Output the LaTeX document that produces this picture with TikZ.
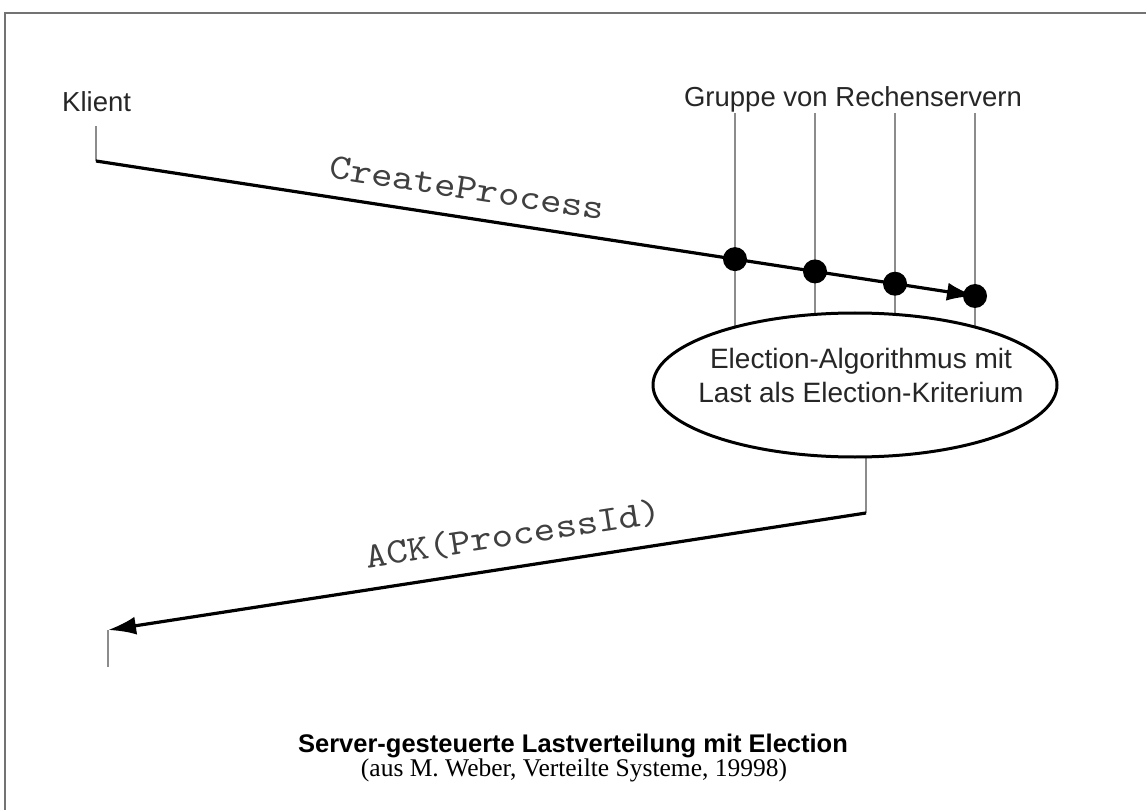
\documentclass[tikz,border=0pt]{standalone}
\usepackage{fontspec}
\setmainfont{Liberation Serif}
\setsansfont{Liberation Sans}
\newfontfamily\msgfont{lmmono10-regular}[Extension=.otf, FakeStretch=1.13]
\usetikzlibrary{shapes.geometric,arrows.meta}
\pgfdeclarelayer{bg}
\pgfsetlayers{bg,main}

\begin{document}
\begin{tikzpicture}[x=1pt,y=-1pt,
  lbl/.style={font=\sffamily\fontsize{27.5}{33}\selectfont, text=black!85, inner sep=0pt},
  msglbl/.style={font=\msgfont\fontsize{36}{40}\selectfont, text=black!75,
    inner sep=0pt, text depth=0pt, sloped},
  msg/.style={line width=3.2pt, black},
  life/.style={line width=2pt, black!45},
  frame/.style={line width=2pt, black!55},
  dot/.style={circle, fill=black, minimum size=24pt, inner sep=0pt},
  tip/.style={-{Latex[length=28pt,width=18pt]}},
  elect/.style={ellipse, draw, line width=3pt, fill=white, minimum width=404pt,
    minimum height=144pt, inner sep=0pt},
  electtext/.style={align=center, inner sep=0pt,
    font=\sffamily\fontsize{28}{34}\selectfont, text=black!85}
]
\useasboundingbox (0,0) rectangle (1146,810);

% outer frame (top and left edge)
\draw[frame] (5,810) -- (5,13) -- (1146,13);

% participants
\node[lbl, anchor=base west] (klient) at (62,112) {Klient};
\node[lbl, anchor=base] (gruppe) at (853,107) {Gruppe von Rechenservern};

% lifeline anchors
\coordinate (kt) at (96,126);
\coordinate (ks) at (96,161);
\coordinate (s1) at (735,113);
\coordinate (s2) at (815,113);
\coordinate (s3) at (895,113);
\coordinate (s4) at (975,113);
\coordinate (s1b) at (735,385);
\coordinate (s2b) at (815,385);
\coordinate (s3b) at (895,385);
\coordinate (s4b) at (975,385);
\coordinate (ce) at (975,296);
\coordinate (r) at (866,513);
\coordinate (ke) at (108,630);
\coordinate (kb) at (108,667);

% election algorithm
\node[elect] (elli) at (855,385) {};
\node[electtext, anchor=base] (ellitext) at (861,402)
  {Election-Algorithmus mit\\Last als Election-Kriterium};

% lifelines behind the ellipse
\begin{pgfonlayer}{bg}
  \draw[life] (s1) -- (s1b);
  \draw[life] (s2) -- (s2b);
  \draw[life] (s3) -- (s3b);
  \draw[life] (s4) -- (s4b);
  \draw[life] (elli.center -| r) -- (r);
\end{pgfonlayer}
\draw[life] (kt) -- (ks);
\draw[life] (ke) -- (kb);

% receive points on the server group
\node[dot] (d1) at (intersection of ks--ce and s1--s1b) {};
\node[dot] (d2) at (intersection of ks--ce and s2--s2b) {};
\node[dot] (d3) at (intersection of ks--ce and s3--s3b) {};
\node[dot] (d4) at (ce) {};

% messages
\draw[msg, tip] (ks) -- node[msglbl, pos=0.417, above=17pt] {CreateProcess} (d4.center);
\draw[msg, tip] (r) -- node[msglbl, pos=0.459, above=20pt] {ACK(ProcessId)} (ke);

% caption
\node[font=\sffamily\bfseries\fontsize{25.5}{30}\selectfont, anchor=base, inner sep=0pt]
  (title) at (573,752) {Server-gesteuerte Lastverteilung mit Election};
\node[font=\rmfamily\fontsize{25.5}{30}\selectfont, anchor=base, inner sep=0pt]
  (source) at (574,776) {(aus M. Weber, Verteilte Systeme, 19998)};
\end{tikzpicture}
\end{document}
